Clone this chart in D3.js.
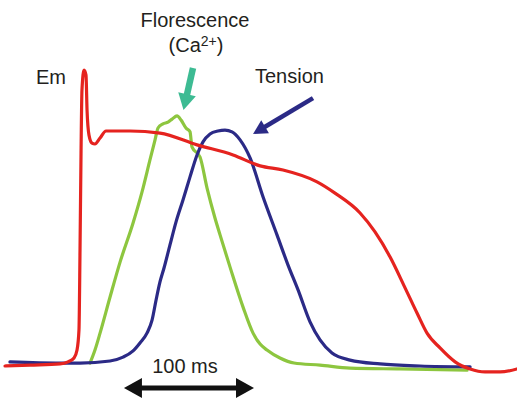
<!DOCTYPE html>
<html>
<head>
<meta charset="utf-8">
<script src="https://cdn.jsdelivr.net/npm/d3@7"></script>
<style>
  html, body { margin: 0; padding: 0; background: #fff; }
  svg { display: block; }
  text { font-family: "Liberation Sans", Arial, sans-serif; fill: #231f20; }
</style>
</head>
<body>
<svg id="chart" width="517" height="400"></svg>
<script>
// Time in ms, amplitude in normalized units (0 = rest, 100 = Em spike peak)
const emTime  = [0, 19.2, 42.3, 48.5, 53.1, 55.4, 56.9, 57.7, 58.5, 59.2, 60.8, 62.3, 63.1, 64.6, 66.9, 69.2, 73.1, 77.7, 96.2, 119.2, 147.7, 175.4, 196.2, 213.8, 240, 253.8, 273.1, 284.6, 296.2, 307.7, 316.9, 324.6, 334.6, 346.2, 357.7, 369.2, 380.8, 393.8];
const emValue = [0, 0.3, 0.7, 1.4, 2.7, 5.4, 12.2, 39.2, 73.0, 93.2, 100, 98.3, 86.5, 78.0, 75.3, 75.0, 77.0, 79.4, 79.4, 78.7, 74.7, 71.3, 67.6, 66.2, 62.2, 58.4, 51.7, 45.3, 36.8, 26.4, 17.9, 11.1, 6.1, 1.4, -1.0, -2.0, -2.0, -1.0];

const tensionTime  = [3.8, 42.3, 57.7, 80.8, 90.8, 98.5, 103.8, 109.2, 113.1, 116.2, 119.2, 122.3, 126.9, 131.5, 136.9, 142.3, 147.7, 152.3, 157.7, 163.8, 169.2, 174.6, 180.8, 188.5, 198.5, 209.2, 217.7, 225.4, 234.6, 242.3, 251.5, 265.4, 288.5, 319.2, 357.7];
const tensionValue = [1.4, 1.0, 1.0, 1.7, 3.0, 5.1, 7.8, 11.1, 15.5, 22.3, 28.4, 33.1, 40.9, 48.6, 56.1, 63.9, 71.3, 75.7, 78.4, 79.4, 79.7, 79.1, 76.4, 70.3, 57.1, 44.3, 34.1, 25.7, 14.9, 8.8, 4.4, 2.0, 0.7, 0, -0.3];

const fluoTime  = [65.4, 69.2, 73.1, 80.8, 88.5, 98.5, 105.4, 111.5, 115.4, 117.7, 121.5, 125.4, 128.5, 132.3, 135.4, 139.2, 142.3, 143.8, 150, 155.4, 161.5, 165.4, 173.1, 183.1, 190.8, 196.2, 201.5, 211.5, 222.3, 242.3, 265.4, 303.8, 355.4];
const fluoValue = [1.0, 5.4, 11.1, 23.3, 35.1, 48.3, 58.8, 69.6, 76.4, 80.4, 81.8, 82.4, 83.4, 84.5, 83.1, 80.4, 79.1, 74.0, 70.6, 60.1, 50.0, 44.3, 33.4, 19.9, 11.1, 7.4, 5.4, 2.7, 1.0, 0.3, -0.7, -1.0, -1.4];

const labels = { em: "Em", tension: "Tension", fluo1: "Florescence", scale: "100 ms" };
const scaleBarStart = 91.5;   // ms
const scaleBarLength = 100;   // ms

const svg = d3.select("#chart");
const x = d3.scaleLinear().domain([0, 393.8]).range([5, 517]);
const y = d3.scaleLinear().domain([0, 100]).range([366, 70]);

const line = d3.line().x(d => x(d[0])).y(d => y(d[1])).curve(d3.curveMonotoneX);

function series(t, v) { return t.map((ti, i) => [ti, v[i]]); }

svg.append("path").datum(series(fluoTime, fluoValue))
  .attr("d", line).attr("fill", "none").attr("stroke", "#8dc63f")
  .attr("stroke-width", 3.2).attr("stroke-linejoin", "round").attr("stroke-linecap", "round");
svg.append("path").datum(series(tensionTime, tensionValue))
  .attr("d", line).attr("fill", "none").attr("stroke", "#2b2a86")
  .attr("stroke-width", 3.2).attr("stroke-linejoin", "round").attr("stroke-linecap", "round");
svg.append("path").datum(series(emTime, emValue))
  .attr("d", line).attr("fill", "none").attr("stroke", "#e5231f")
  .attr("stroke-width", 3.2).attr("stroke-linejoin", "round").attr("stroke-linecap", "round");

// arrow helper: from (x1,y1) to tip (x2,y2)
function arrow(x1, y1, x2, y2, color, shaftW, headLen, headW) {
  const dx = x2 - x1, dy = y2 - y1, L = Math.hypot(dx, dy);
  const ux = dx / L, uy = dy / L, px = -uy, py = ux;
  const bx = x2 - ux * headLen, by = y2 - uy * headLen;
  svg.append("line").attr("x1", x1).attr("y1", y1).attr("x2", bx + ux).attr("y2", by + uy)
    .attr("stroke", color).attr("stroke-width", shaftW);
  svg.append("path")
    .attr("d", `M${x2},${y2}L${bx + px * headW / 2},${by + py * headW / 2}L${bx - px * headW / 2},${by - py * headW / 2}Z`)
    .attr("fill", color);
}

// Fluorescence arrow (pointing at Ca2+ peak)
arrow(x(144.6), y(100.7), x(137.3), y(86.5), "#3dbb93", 6.5, 16, 18);
// Tension arrow
arrow(x(236.9), y(90.5), x(190.8), y(78.4), "#2b2a86", 4.5, 14, 15);

// Labels
svg.append("text").attr("x", 195).attr("y", 27).attr("text-anchor", "middle")
  .attr("font-size", 20).text(labels.fluo1);
const ca = svg.append("text").attr("x", 196).attr("y", 52).attr("text-anchor", "middle").attr("font-size", 20);
ca.append("tspan").text("(Ca");
ca.append("tspan").attr("font-size", 14).attr("dy", -6).text("2+");
ca.append("tspan").attr("dy", 6).text(")");

svg.append("text").attr("x", 36).attr("y", 84).attr("font-size", 20).text(labels.em);
svg.append("text").attr("x", 255).attr("y", 83).attr("font-size", 20).text(labels.tension);

// Scale bar
const sx1 = x(scaleBarStart), sx2 = x(scaleBarStart + scaleBarLength), sy = 388;
svg.append("text").attr("x", (sx1 + sx2) / 2 - 4).attr("y", 373).attr("text-anchor", "middle")
  .attr("font-size", 20).text(labels.scale);
svg.append("line").attr("x1", sx1 + 14).attr("x2", sx2 - 14).attr("y1", sy).attr("y2", sy)
  .attr("stroke", "#111").attr("stroke-width", 5);
svg.append("path").attr("d", `M${sx1},${sy}L${sx1 + 18},${sy - 10}L${sx1 + 18},${sy + 10}Z`).attr("fill", "#111");
svg.append("path").attr("d", `M${sx2},${sy}L${sx2 - 18},${sy - 10}L${sx2 - 18},${sy + 10}Z`).attr("fill", "#111");
</script>
</body>
</html>
